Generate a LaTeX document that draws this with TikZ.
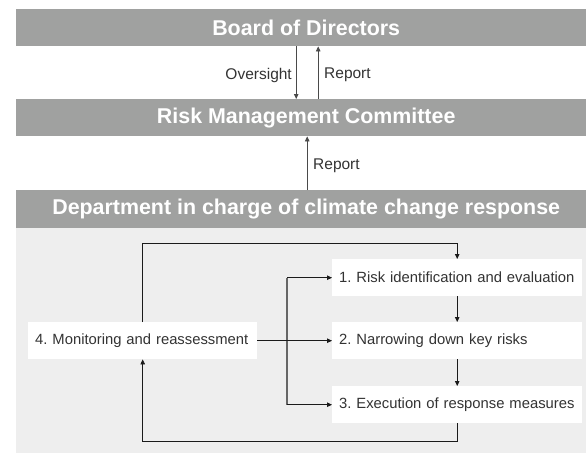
\documentclass[tikz,border=0pt]{standalone}
\usepackage{fontspec}
\setmainfont{Liberation Sans}
\usetikzlibrary{arrows.meta,calc}
\frenchspacing
\definecolor{band}{HTML}{A0A1A0}
\definecolor{panel}{HTML}{EEEEEE}
\definecolor{ink}{HTML}{333333}
\definecolor{wire}{HTML}{1A1A1A}
\definecolor{hdrwire}{HTML}{4A4A4A}
\tikzset{
  title/.style={fill=band, text=white, font=\fontsize{21.4}{24}\selectfont\bfseries,
    minimum width=580pt, minimum height=37pt, inner sep=0pt, anchor=north west},
  stepbox/.style={fill=white, text=ink, font=\fontsize{14.8}{17}\selectfont,
    minimum height=37pt, inner ysep=0pt, inner xsep=7pt, anchor=north west, align=left},
  lbl/.style={font=\fontsize{15.5}{18}\selectfont, text=ink, inner sep=0pt},
  flow/.style={draw=wire, line width=0.8pt, -{Triangle[length=5pt,width=4.5pt]}},
  hdrflow/.style={draw=hdrwire, line width=0.8pt, -{Triangle[length=5pt,width=4.5pt]}},
  branch/.style={draw=black!60, line width=1.4pt}
}
\begin{document}
\begin{tikzpicture}[x=1pt, y=-1pt]
\useasboundingbox (0,0) rectangle (586,453);

% light panel under the department band
\fill[panel] (16,228) rectangle (596,453);

% title bands
\node[title] (board) at (16,9) {Board of Directors};
\node[title] (rmc) at (16,99) {Risk Management Committee};
\node[title, minimum height=38pt] (dept) at (16,190) {Department in charge of climate change response};

% reporting lines between the bands
\draw[hdrflow] ($(board.south)+(-10,0)$) -- ($(rmc.north)+(-10,0)$);
\draw[hdrflow] ($(rmc.north)+(12,0)$) -- ($(board.south)+(12,0)$);
\draw[hdrflow] ($(dept.north)+(1,0)$) -- ($(rmc.south)+(1,0)$);
\node[lbl, anchor=east] (lov) at (292,75) {Oversight};
\node[lbl, anchor=west] (lrep1) at (324,75) {Report};
\node[lbl, anchor=west] (lrep2) at (313,166) {Report};

% process steps
\node[stepbox, text width=236pt] (b1) at (332,259) {1. Risk identification and evaluation};
\node[stepbox, text width=236pt] (b2) at (332,322) {2. Narrowing down key risks};
\node[stepbox, text width=236pt] (b3) at (332,386) {3. Execution of response measures};
\node[stepbox, text width=215pt, inner xsep=7pt] (b4) at (28,322) {4. Monitoring and reassessment};

% routing helpers
\coordinate (top) at (0,243);
\coordinate (bot) at (0,441);
\coordinate (split) at (287,0);

% cycle
\draw[flow] (b4.north) -- (b4.north |- top) -- (b1.north |- top) -- (b1.north);
\draw[flow] (b1.south) -- (b2.north);
\draw[flow] (b2.south) -- (b3.north);
\draw[flow] (b3.south) -- (b3.south |- bot) -- (b4.south |- bot) -- (b4.south);
\draw[branch] (split |- b1.west) -- (split |- b3.west);
\draw[flow] (b4.east) -- (b2.west);
\draw[flow] (split |- b1.west) -- (b1.west);
\draw[flow] (split |- b3.west) -- (b3.west);
\end{tikzpicture}
\end{document}
